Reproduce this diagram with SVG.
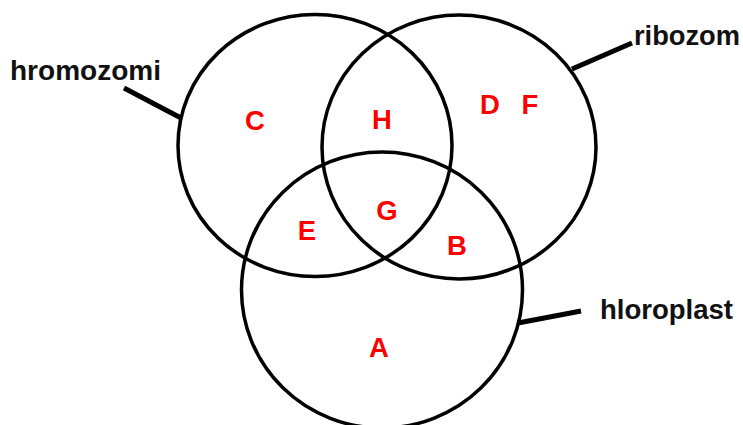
<svg xmlns="http://www.w3.org/2000/svg" width="743" height="425" viewBox="0 0 743 425">
<style>
.c{fill:none;stroke:#000;stroke-width:3.5}
.l{stroke:#000;stroke-width:5;stroke-linecap:butt}
.t{font-family:"Liberation Sans",Arial,sans-serif;font-weight:bold;font-size:28px;fill:#111}
.r{font-family:"Liberation Sans",Arial,sans-serif;font-weight:bold;font-size:27.5px;fill:#f00;text-anchor:middle}
</style>
<rect width="743" height="425" fill="#fff"/>
<g id="set-hromozomi">
<ellipse class="c" cx="315" cy="145.5" rx="137" ry="131"/>
<text class="t" x="10" y="80" textLength="151" lengthAdjust="spacingAndGlyphs">hromozomi</text>
</g>
<g id="set-ribozom">
<ellipse class="c" cx="459" cy="147" rx="137" ry="132"/>
<text class="t" x="634" y="45" textLength="106" lengthAdjust="spacingAndGlyphs">ribozom</text>
</g>
<g id="set-hloroplast">
<ellipse class="c" cx="382" cy="290" rx="140.5" ry="138"/>
<text class="t" x="600" y="319" textLength="133" lengthAdjust="spacingAndGlyphs">hloroplast</text>
</g>
<g id="connectors">
<line class="l" x1="124" y1="88" x2="181" y2="118"/>
<line class="l" x1="572" y1="69" x2="632" y2="43"/>
<line class="l" x1="518" y1="323" x2="581" y2="311"/>
</g>
<g id="regions">
<text class="r" x="255" y="130">C</text>
<text class="r" x="382" y="129">H</text>
<text class="r" x="490" y="114">D</text>
<text class="r" x="530" y="114">F</text>
<text class="r" x="387" y="220">G</text>
<text class="r" x="307" y="240">E</text>
<text class="r" x="457" y="255">B</text>
<text class="r" x="379" y="357">A</text>
</g>
</svg>
